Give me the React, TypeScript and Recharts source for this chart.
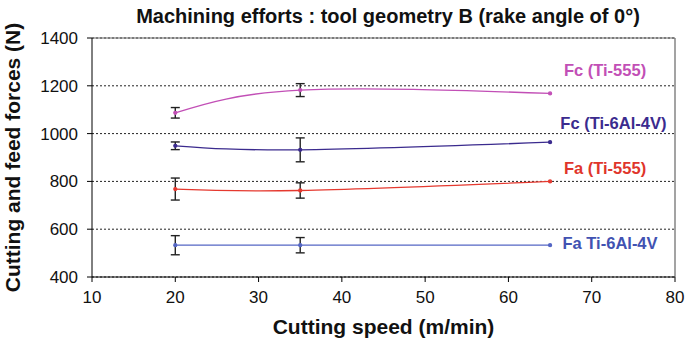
import React from 'react';
import { ComposedChart, Line, XAxis, YAxis, CartesianGrid, ErrorBar, ReferenceLine, ReferenceDot } from 'recharts';

const speeds = [20, 35, 65];
const fcTi555 = [1087, 1182, 1168];
const fcTi555Err = [22, 27, null];
const fcTi64 = [949, 932, 964];
const fcTi64Err = [16, 50, null];
const faTi555 = [768, 762, 800];
const faTi555Err = [46, 32, null];
const faTi64 = [533, 533, 533];
const faTi64Err = [40, 32, null];

const xTicks = [10, 20, 30, 40, 50, 60, 70, 80];
const yTicks = [400, 600, 800, 1000, 1200, 1400];

const labels = [
  { text: 'Fc (Ti-555)', x: 71.6, y: 1267, color: '#c24fb6' },
  { text: 'Fc (Ti-6Al-4V)', x: 72.6, y: 1042, color: '#3b2b8e' },
  { text: 'Fa (Ti-555)', x: 71.6, y: 854, color: '#e0352b' },
  { text: 'Fa Ti-6Al-4V', x: 72.2, y: 542, color: '#4152b2' },
];

const data = speeds.map((s, i) => ({
  speed: s,
  fc555: fcTi555[i], fc555e: fcTi555Err[i] ?? undefined,
  fc64: fcTi64[i], fc64e: fcTi64Err[i] ?? undefined,
  fa555: faTi555[i], fa555e: faTi555Err[i] ?? undefined,
  fa64: faTi64[i], fa64e: faTi64Err[i] ?? undefined,
}));

const font = '"Liberation Sans", Arial, sans-serif';

const series = [
  { key: 'fc555', err: 'fc555e', color: '#c24fb6' },
  { key: 'fc64', err: 'fc64e', color: '#3b2b8e' },
  { key: 'fa555', err: 'fa555e', color: '#e5392f' },
  { key: 'fa64', err: 'fa64e', color: '#5466c4' },
];

export default function App() {
  return (
    <div style={{ position: 'absolute', left: 0, top: 0, width: 686, height: 343, background: '#fff', fontFamily: font }}>
      <div style={{ position: 'absolute', left: 388, top: 6, transform: 'translateX(-50%)', fontWeight: 'bold', fontSize: 20, lineHeight: '20px', color: '#111', whiteSpace: 'nowrap' }}>
        Machining efforts : tool geometry B (rake angle of 0°)
      </div>
      <ComposedChart width={686} height={343} data={data} margin={{ top: 38, right: 11, left: 0, bottom: 0 }}>
        <CartesianGrid horizontal vertical={false} stroke="#222" strokeDasharray="2 2" />
        <ReferenceLine y={1400} stroke="#666" strokeWidth={1.2} />
        <ReferenceLine x={80} stroke="#666" strokeWidth={1.2} />
        <XAxis
          type="number"
          dataKey="speed"
          domain={[10, 80]}
          ticks={xTicks}
          height={66}
          stroke="#000"
          tickSize={5}
          tickMargin={9}
          tick={{ fill: '#111', fontSize: 17, fontFamily: font }}
          label={{ value: 'Cutting speed (m/min)', position: 'insideBottom', offset: 9, fill: '#111', fontSize: 21, fontWeight: 'bold', fontFamily: font }}
        />
        <YAxis
          type="number"
          domain={[400, 1400]}
          ticks={yTicks}
          width={92}
          stroke="#000"
          tickSize={5}
          tickMargin={9}
          tick={{ fill: '#111', fontSize: 17, fontFamily: font }}
          label={{ value: 'Cutting and feed forces (N)', angle: -90, position: 'insideLeft', offset: 12.5, fill: '#111', fontSize: 21, fontWeight: 'bold', fontFamily: font, style: { textAnchor: 'middle' } }}
        />
        {series.map((s) => (
          <Line
            key={s.key}
            type="natural"
            dataKey={s.key}
            stroke={s.color}
            strokeWidth={1.3}
            dot={{ r: 1.5, fill: s.color, stroke: s.color }}
            isAnimationActive={false}
          >
            <ErrorBar dataKey={s.err} width={4.5} stroke="#222" strokeWidth={1.4} direction="y" />
          </Line>
        ))}
        {labels.map((l) => (
          <ReferenceDot
            key={l.text}
            x={l.x}
            y={l.y}
            r={0}
            fill="none"
            stroke="none"
            label={{ value: l.text, position: 'center', fill: l.color, fontSize: 16.5, fontWeight: 'bold', fontFamily: font }}
          />
        ))}
      </ComposedChart>
    </div>
  );
}
